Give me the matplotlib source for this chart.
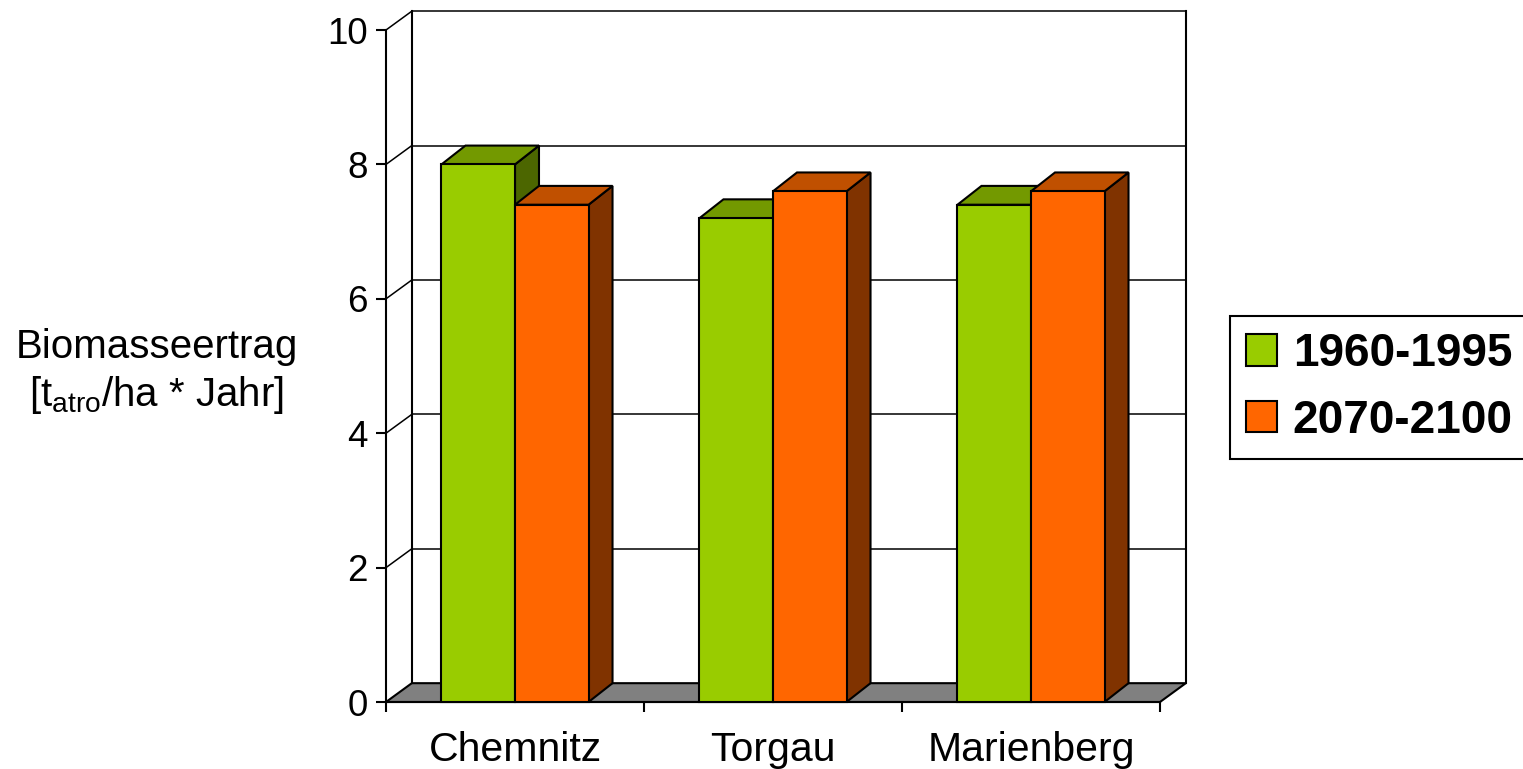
import matplotlib
matplotlib.use('Agg')
import matplotlib.pyplot as plt
from matplotlib.patches import Polygon, Patch

sites = ['Chemnitz', 'Torgau', 'Marienberg']
periods = ['1960-1995', '2070-2100']
ertrag_1960_1995 = [8.0, 7.2, 7.4]
ertrag_2070_2100 = [7.4, 7.6, 7.6]
yticks = [0, 2, 4, 6, 8, 10]

plt.rcParams['font.family'] = 'Liberation Sans'
plt.rcParams['mathtext.fontset'] = 'custom'
plt.rcParams['mathtext.rm'] = 'Liberation Sans'
plt.rcParams['mathtext.it'] = 'Liberation Sans:italic'

W, H = 1523, 769
fig = plt.figure(figsize=(W / 100, H / 100), dpi=100)
ax = fig.add_axes([386 / W, (H - 702) / H, (1160 - 386) / W, (702 - 30) / H])
ax.set_xlim(-0.5, 2.5)
ax.set_ylim(0, 10)

# depth of the pseudo-3d box and of the columns, in data units
dx, dy = 0.1, 0.28
bdx, bdy = 0.093, 0.28
bw = 0.285

# front, top, side shades per series
shades = [('#99CC00', '#739900', '#4C6600'),
          ('#FF6600', '#C05000', '#803300')]

x0, x1 = -0.5, 2.5
kw = dict(clip_on=False, color='black', solid_capstyle='projecting')

# floor
ax.add_patch(Polygon([(x0, 0), (x1, 0), (x1 + dx, dy), (x0 + dx, dy)],
                     closed=True, facecolor='#808080', edgecolor='black',
                     lw=1.5, clip_on=False, zorder=1))

# back wall gridlines and left wall diagonals
for t in yticks[1:]:
    ax.plot([x0 + dx, x1 + dx], [t + dy, t + dy], lw=1.1, zorder=1, **kw)
    ax.plot([x0, x0 + dx], [t, t + dy], lw=1.1, zorder=1, **kw)

# wall edges
ax.plot([x0 + dx, x0 + dx], [dy, 10 + dy], lw=1.5, zorder=1, **kw)
ax.plot([x1 + dx, x1 + dx], [dy, 10 + dy], lw=1.5, zorder=1, **kw)


def bar3d(xl, h, cols):
    front = [(xl, 0), (xl + bw, 0), (xl + bw, h), (xl, h)]
    top = [(xl, h), (xl + bw, h), (xl + bw + bdx, h + bdy), (xl + bdx, h + bdy)]
    side = [(xl + bw, 0), (xl + bw + bdx, bdy), (xl + bw + bdx, h + bdy), (xl + bw, h)]
    for pts, c in ((side, cols[2]), (top, cols[1]), (front, cols[0])):
        ax.add_patch(Polygon(pts, closed=True, facecolor=c, edgecolor='black',
                             lw=1.5, joinstyle='miter', clip_on=False, zorder=3))


for i in range(len(sites)):
    bar3d(i - bw, ertrag_1960_1995[i], shades[0])
    bar3d(i, ertrag_2070_2100[i], shades[1])

for s in ['top', 'right']:
    ax.spines[s].set_visible(False)
for s in ['left', 'bottom']:
    ax.spines[s].set_linewidth(1.5)
ax.patch.set_visible(False)

ax.set_yticks(yticks)
ax.tick_params(axis='y', length=7.2, width=1.5, labelsize=26.5, pad=6)
ax.set_xticks(range(len(sites)))
ax.set_xticklabels(sites, fontsize=29.5)
ax.tick_params(axis='x', which='major', length=0, pad=21)
ax.set_xticks([-0.5, 0.5, 1.5, 2.5], minor=True)
ax.tick_params(axis='x', which='minor', length=7.2, width=1.5)

ax.set_ylabel('Biomasseertrag\n[t$_{\\mathrm{atro}}$/ha * Jahr]', rotation=0,
              fontsize=29, ha='center', va='center', linespacing=1.25)
ax.yaxis.set_label_coords(-0.296, 0.491)

handles = [Patch(facecolor=shades[k][0], edgecolor='black', lw=1.5, label=periods[k])
           for k in range(2)]
leg = ax.legend(handles=handles, loc='center left',
                bbox_to_anchor=(1230 / W, (H - 387.5) / H),
                bbox_transform=fig.transFigure,
                prop={'weight': 'bold', 'size': 33}, frameon=True, fancybox=False,
                edgecolor='black', framealpha=1, handlelength=0.67,
                handleheight=0.67, handletextpad=0.35, borderpad=0.35,
                labelspacing=0.5, borderaxespad=0)
leg.get_frame().set_linewidth(1.5)

fig.savefig('out.png', dpi=100)
